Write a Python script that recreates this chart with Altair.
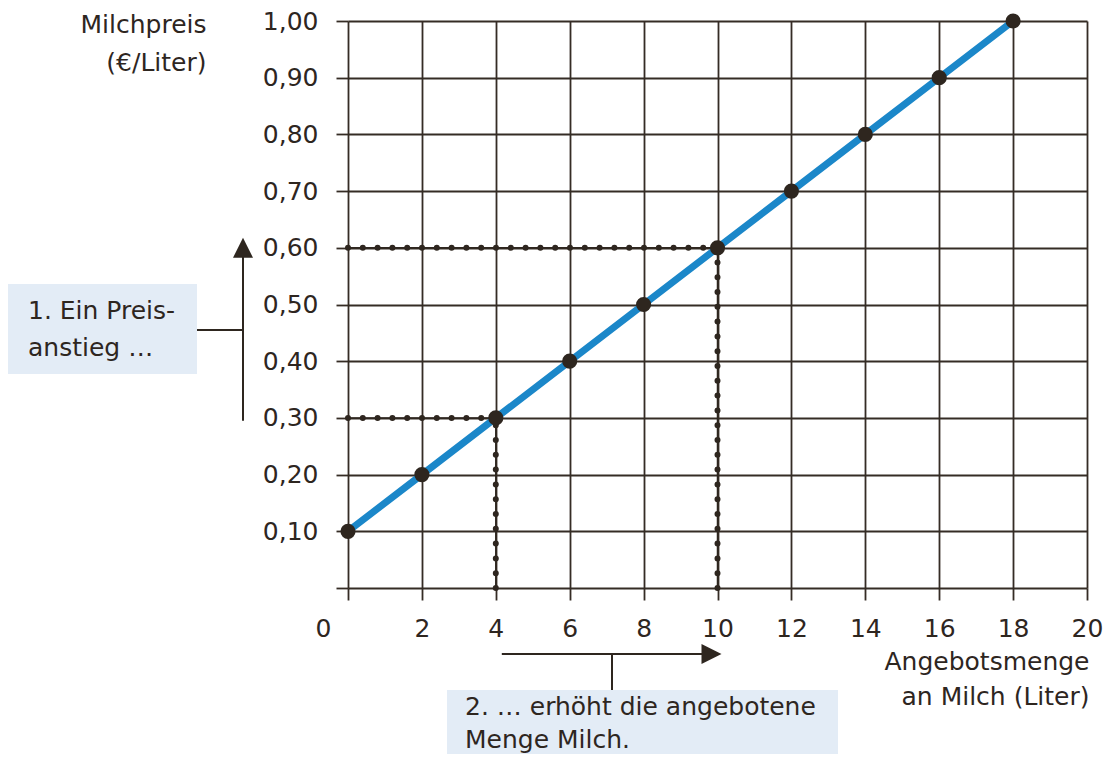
import altair as alt
import pandas as pd

# ---------------- data ----------------
menge = [0, 2, 4, 6, 8, 10, 12, 14, 16, 18]
preis = [0.10, 0.20, 0.30, 0.40, 0.50, 0.60, 0.70, 0.80, 0.90, 1.00]

x_ticks = [0, 2, 4, 6, 8, 10, 12, 14, 16, 18, 20]
y_ticks = [0.0, 0.1, 0.2, 0.3, 0.4, 0.5, 0.6, 0.7, 0.8, 0.9, 1.0]

# dotted guide lines (from / to in data units)
guide_x = [0, 0, 4, 10]
guide_x2 = [4, 10, 4, 10]
guide_y = [0.3, 0.6, 0.0, 0.0]
guide_y2 = [0.3, 0.6, 0.3, 0.6]

# annotation arrows (data ranges they span)
preis_pfeil = [0.295, 0.60]
menge_pfeil = [4, 10]

y_title = ["Milchpreis", "(€/Liter)"]
x_title = ["Angebotsmenge", "an Milch (Liter)"]
box1_text = ["1. Ein Preis-", "anstieg …"]
box2_text = ["2. … erhöht die angebotene", "Menge Milch."]

# ---------------- style ----------------
INK = "#2e261f"
GRID = "#352c25"
BLUE = "#1b87c9"
BOX = "#e3ecf6"
FONT = "DejaVu Sans"
FS = 25
W, H = 739, 567
PL = 340  # left padding -> plot left edge at page x = PL + 8

curve = pd.DataFrame({"menge": menge, "preis": preis})
guides = pd.DataFrame({"x": guide_x, "x2": guide_x2, "y": guide_y, "y2": guide_y2})
one = pd.DataFrame({"a": [0]})
yarrow = pd.DataFrame({"y0": [preis_pfeil[0]], "y1": [preis_pfeil[1]]})
xarrow = pd.DataFrame({"x0": [menge_pfeil[0]], "x1": [menge_pfeil[1]]})

xscale = alt.Scale(domain=[0, 20], nice=False, zero=False)
yscale = alt.Scale(domain=[0, 1], nice=False, zero=False)

xaxis = alt.Axis(
    values=x_ticks,
    title=x_title,
    labelExpr="datum.label",
    labelFlush=False,
    labelOffset={"condition": {"test": "datum.value == 0", "value": -25}, "value": 0},
    labelPadding=16,
    titleX=741,
    titleY=73,
    titleAlign="right",
    titleBaseline="middle",
    titleLineHeight=35,
)
yaxis = alt.Axis(
    values=y_ticks,
    title=y_title,
    labelExpr="datum.value == 0 ? '' : replace(format(datum.value, '.2f'), '.', ',')",
    labelFlush=False,
    labelPadding=18,
    titleAngle=0,
    titleX=-142,
    titleY=3,
    titleAlign="right",
    titleBaseline="middle",
    titleLineHeight=38,
)


def X(field):
    return alt.X(field, type="quantitative", scale=xscale, axis=xaxis)


def Y(field):
    return alt.Y(field, type="quantitative", scale=yscale, axis=yaxis)


# boxes
box1 = alt.Chart(one).mark_rect(color=BOX).encode(
    x=alt.value(-340), x2=alt.value(-151), y=alt.value(263), y2=alt.value(353)
)
box2 = alt.Chart(one).mark_rect(color=BOX).encode(
    x=alt.value(99), x2=alt.value(490), y=alt.value(669), y2=alt.value(740)
)

# dotted guides: thin line + round dots
guide_line = alt.Chart(guides).mark_rule(color=INK, strokeWidth=1.5).encode(
    x=X("x"), x2="x2:Q", y=Y("y"), y2="y2:Q"
)
guide_dots = alt.Chart(guides).mark_rule(
    color=INK, strokeWidth=6, strokeDash=[0, 14.8], strokeCap="round"
).encode(x=X("x"), x2="x2:Q", y=Y("y"), y2="y2:Q")

line = alt.Chart(curve).mark_line(color=BLUE, strokeWidth=7).encode(
    x=X("menge"), y=Y("preis")
)
points = alt.Chart(curve).mark_circle(size=230, color=INK, opacity=1).encode(
    x=X("menge"), y=Y("preis")
)

# price-rise arrow (vertical, left of the y axis)
yshaft = alt.Chart(yarrow).mark_rule(color=INK, strokeWidth=2).encode(
    x=alt.value(-105), y=Y("y0"), y2="y1:Q"
)
yhead = alt.Chart(yarrow).mark_point(
    shape="M0,-1L-1,1L1,1Z", size=400, filled=True, color=INK, opacity=1, strokeWidth=0
).encode(x=alt.value(-105), y=Y("y1"))
yconn = alt.Chart(one).mark_rule(color=INK, strokeWidth=2).encode(
    x=alt.value(-151), x2=alt.value(-105), y=alt.value(309)
)

# quantity arrow (horizontal, below the x axis)
xshaft = alt.Chart(xarrow).mark_rule(
    color=INK, strokeWidth=2, xOffset=6, x2Offset=-10
).encode(x=X("x0"), x2="x1:Q", y=alt.value(633))
xhead = alt.Chart(xarrow).mark_point(
    shape="M1,0L-1,-1L-1,1Z", size=400, filled=True, color=INK, opacity=1,
    strokeWidth=0, xOffset=-6
).encode(x=X("x1"), y=alt.value(633))
xconn = alt.Chart(one).mark_rule(color=INK, strokeWidth=2).encode(
    x=alt.value(264), y=alt.value(633), y2=alt.value(669)
)

text1 = alt.Chart(one).mark_text(
    text=box1_text, align="left", baseline="middle", lineHeight=37,
    font=FONT, fontSize=FS, color=INK
).encode(x=alt.value(-320), y=alt.value(290))
text2 = alt.Chart(one).mark_text(
    text=box2_text, align="left", baseline="middle", lineHeight=33,
    font=FONT, fontSize=FS, color=INK
).encode(x=alt.value(117), y=alt.value(686))

chart = (
    alt.layer(
        box1, box2, guide_line, guide_dots, line, points,
        yshaft, yhead, yconn, xshaft, xhead, xconn, text1, text2,
    )
    .properties(
        width=W,
        height=H,
        padding={"left": PL, "top": 13, "right": 16, "bottom": 166},
        autosize=alt.AutoSizeParams(type="none"),
        background="white",
    )
    .configure_view(stroke=None)
    .configure_axis(
        grid=True,
        gridColor=GRID,
        gridWidth=1.8,
        gridOpacity=1,
        domain=False,
        ticks=True,
        tickColor=GRID,
        tickWidth=1.8,
        tickSize=12,
        labelFont=FONT,
        labelFontSize=FS,
        labelColor=INK,
        titleFont=FONT,
        titleFontSize=FS,
        titleFontWeight="normal",
        titleColor=INK,
    )
)

chart.save("out.html", embed_options={"renderer": "svg", "actions": False})
